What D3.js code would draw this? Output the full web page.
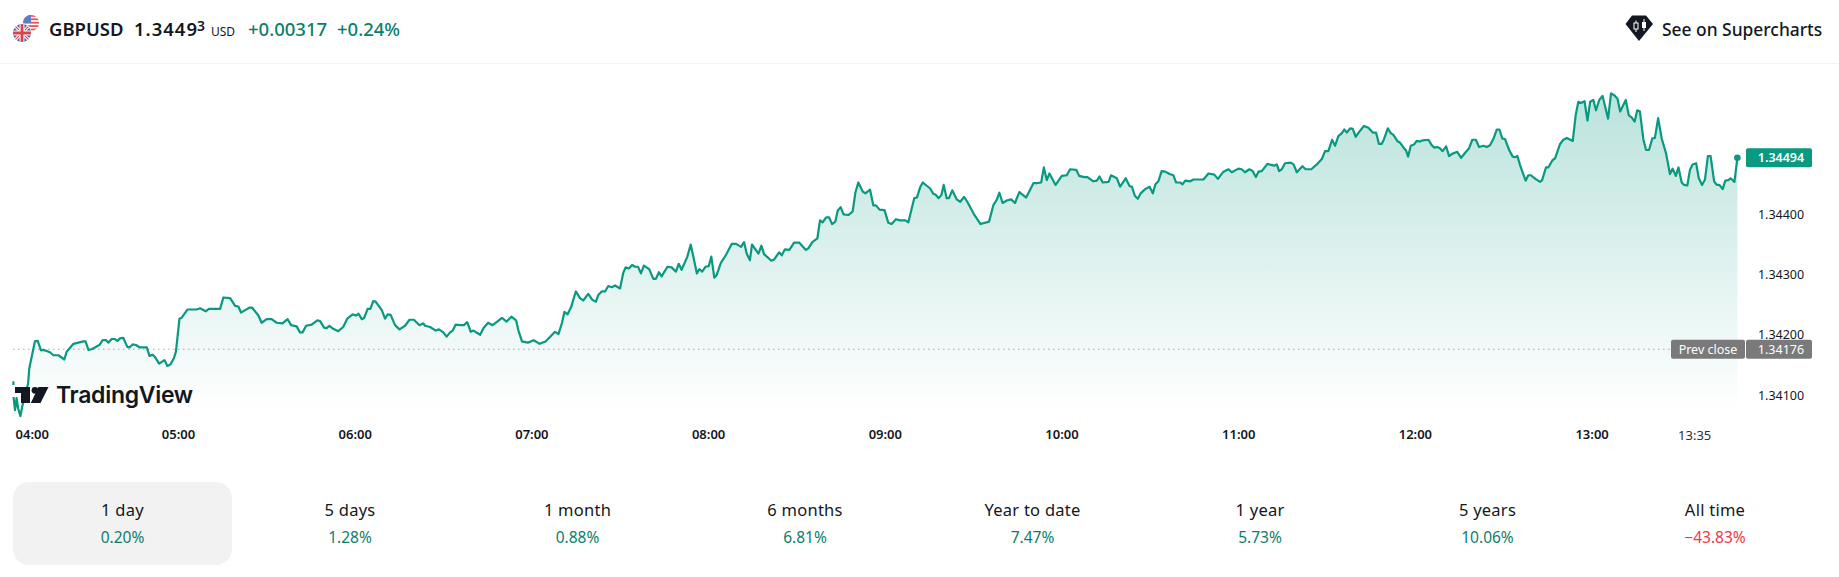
<!DOCTYPE html>
<html>
<head>
<meta charset="utf-8">
<title>GBPUSD</title>
<script src="https://cdn.jsdelivr.net/npm/d3@7"></script>
<style>
  html, body { margin: 0; padding: 0; background: #fff; overflow: hidden; }
  svg { display: block; }
  text { font-family: "Noto Sans", sans-serif; }
</style>
</head>
<body>
<svg id="chart" width="1839" height="577"></svg>
<script>
// [minutes since 04:00, price]
var quotes = [
  [4.1,1.34123],[4.2,1.34095],[4.65,1.34075],[5.2,1.34095],[5.7,1.34078],[6.5,1.34065],[7.2,1.34083],[8,1.34098],
  [9.1,1.34119],[9.5,1.34144],[11.4,1.34189],[12.35,1.3419],[13.5,1.34174],[14.3,1.34175],[15.4,1.34173],[16.5,1.34171],
  [17.7,1.34166],[19.4,1.34166],[21.4,1.34159],[22.2,1.34172],[24.5,1.34185],[26.2,1.34187],[27.9,1.34189],[28.6,1.34189],
  [29.6,1.34175],[30.7,1.34176],[33.3,1.34183],[34.4,1.34191],[35.6,1.34191],[36.3,1.34187],[37.5,1.34193],[38.6,1.34193],
  [39.4,1.3419],[40.3,1.34194],[41.4,1.34195],[42.8,1.3418],[43.5,1.34179],[44.6,1.34184],[45.7,1.34183],[47.1,1.34179],
  [49.4,1.34179],[50.3,1.34165],[51.4,1.34167],[52.2,1.34163],[53.6,1.34152],[55.4,1.34158],[56.4,1.34148],[57.5,1.34151],
  [58.6,1.34161],[59.3,1.34172],[60.5,1.34227],[61.2,1.34228],[63.2,1.34242],[66.3,1.34242],[67.5,1.34244],[69.4,1.34239],
  [70.5,1.34243],[74.3,1.34243],[75.4,1.34262],[77.7,1.34261],[79.4,1.34248],[80.5,1.34247],[81.4,1.34237],[82.8,1.34241],
  [84.2,1.34245],[85.2,1.34245],[87.3,1.34232],[88.4,1.3422],[90.1,1.34226],[91.8,1.34226],[93.5,1.3422],[95.5,1.34219],
  [97.2,1.34226],[98.4,1.34216],[100.3,1.34214],[101.4,1.34204],[102.3,1.34204],[103.5,1.34215],[105.4,1.34217],[107.3,1.34224],
  [108.2,1.34223],[109.6,1.34212],[110.5,1.34211],[111.4,1.34215],[112.7,1.3421],[114.4,1.34206],[116.1,1.34213],[117.5,1.34227],
  [119.3,1.34234],[120.4,1.34232],[121.3,1.34235],[122.4,1.34226],[123.2,1.34228],[124.4,1.34243],[125.3,1.34243],[126.3,1.34256],
  [127.1,1.34255],[129.2,1.34241],[130.3,1.34227],[131.2,1.34234],[132.2,1.34233],[133.7,1.34216],[135.2,1.34209],[137.1,1.34215],
  [138.6,1.34225],[140.1,1.34225],[142,1.34216],[143.3,1.34219],[143.9,1.34215],[145.6,1.34213],[147.5,1.34207],[148.6,1.34209],
  [150.1,1.34204],[151.2,1.34197],[152.4,1.34204],[153.3,1.34207],[154.3,1.34217],[155.8,1.34216],[157.1,1.34216],[158.2,1.34221],
  [159.4,1.34205],[160.3,1.34207],[162.6,1.342],[163.7,1.34211],[165.3,1.3422],[166.8,1.34216],[168.4,1.34222],[170,1.34228],
  [171.6,1.34222],[173.2,1.3423],[174.8,1.34224],[175.6,1.34207],[176.8,1.34189],[178.8,1.34187],[180.8,1.34191],[182.8,1.34185],
  [184.8,1.34189],[186.8,1.34199],[188,1.34205],[189.2,1.34201],[190.4,1.3422],[191.2,1.34238],[192.3,1.34234],[193.5,1.34246],
  [194.2,1.34258],[195.1,1.34272],[196.5,1.34261],
  [197.6,1.34257],[199.3,1.34268],[200.7,1.34258],[201.9,1.34255],[202.7,1.34266],[203.9,1.34272],[205,1.34272],[206.1,1.34281],
  [207.3,1.34279],[208.4,1.34282],[210.1,1.34277],[211.2,1.34303],[212,1.34312],[213.1,1.3431],[214.2,1.34316],[215.2,1.34313],
  [216.2,1.34313],[217.2,1.34302],[218.2,1.34315],[220,1.34309],[221.4,1.34293],[222.3,1.34293],[223.3,1.34304],[224.2,1.34297],
  [226.2,1.34313],[227.6,1.34312],[229.1,1.34305],[230,1.34318],[231,1.34308],[232.9,1.34329],[234.1,1.3435],[236.2,1.34302],
  [237,1.34309],[238,1.34305],[239.1,1.34313],[240.2,1.34314],[241.1,1.3433],[242.1,1.34295],[242.9,1.34299],[244.3,1.34319],
  [246.1,1.34333],[248,1.34351],[249.5,1.34351],[251.2,1.34346],[252.2,1.34354],[253.1,1.34335],[254.2,1.34324],[254.9,1.3435],
  [257.1,1.34335],[258.1,1.34348],[259,1.34334],[261.5,1.34323],[262.4,1.34325],[264.1,1.34337],[265,1.34332],[266.1,1.34342],
  [267.6,1.34341],[269.2,1.34353],[271,1.34353],[273.2,1.34341],[274.1,1.34344],[275.4,1.34354],[277.1,1.3436],[278,1.3439],
  [278.9,1.34387],[280.1,1.34395],[281.1,1.34395],[282.1,1.34384],[283.2,1.34388],[284,1.34406],[285,1.34412],[286,1.344],
  [287.7,1.34399],[289.1,1.34405],[290,1.34436],[291,1.34453],[292.5,1.34438],[293.4,1.34435],[295,1.34441],[296.1,1.34415],
  [297,1.34415],[298.2,1.34408],[299.9,1.34407],[301.2,1.34386],[302.3,1.34384],[303.8,1.34392],[305.2,1.3439],[307,1.3439],
  [308,1.34387],[310,1.34427],[310.9,1.34428],[312,1.34445],[312.9,1.34453],[315.4,1.34443],[316.5,1.34434],[317.2,1.34433],
  [318.3,1.34427],[319.2,1.34432],[320,1.34449],[321,1.34427],[321.8,1.34427],[322.9,1.3444],[324.4,1.34425],[325.6,1.34421],
  [326.9,1.34429],[328,1.34421],[330.2,1.34401],[332.5,1.34384],[335.4,1.34388],[336.9,1.34416],[338,1.34424],[338.9,1.34436],
  [340,1.34419],[341.4,1.34423],[342.9,1.34425],[344.2,1.34419],[345.7,1.34437],[348,1.34428],[350.5,1.34452],[351.6,1.34452],
  [353.1,1.34453],[354,1.34478],[355,1.34457],[355.9,1.34468],[358,1.34449],[360.1,1.34464],[361.8,1.34465],[362.9,1.34475],
  [365,1.34474],[366,1.34464],[367.7,1.34462],[368.8,1.34462],[370.8,1.34455],[372,1.34456],[372.9,1.34463],[374,1.34453],
  [376,1.34454],[376.8,1.34465],[378.8,1.3446],[379.9,1.34446],[381.8,1.3446],[383.1,1.34447],[383.9,1.34446],[384.9,1.34431],
  [385.9,1.34426],[386.9,1.34435],[388.4,1.34442],[389.9,1.34446],[391,1.34435],[391.9,1.3445],[392.9,1.34455],[394,1.34472],
  [395.2,1.34471],[396.7,1.34467],[398,1.34465],[398.9,1.34453],[400.3,1.34453],[401.1,1.3445],[402,1.34456],[403.7,1.34455],
  [404.8,1.34458],[408.2,1.34458],[409.9,1.34468],[411.9,1.34466],[413.1,1.34459],[415,1.34471],[416.7,1.34475],[417.8,1.3447],
  [420.1,1.34476],[421.2,1.34475],[422.3,1.3447],[423.8,1.34475],[424.9,1.34472],[426,1.34462],[426.9,1.34471],[428,1.34472],
  [429.9,1.34484],[432.2,1.34481],[433.1,1.34483],[433.9,1.34472],[434.8,1.34475],[435.9,1.34485],[437.8,1.34486],[438.8,1.34483],
  [439.9,1.3447],[441.8,1.3448],[442.9,1.34475],[444.8,1.34475],[446.7,1.34483],[448.4,1.34492],[449.5,1.34505],[450.6,1.34505],
  [451.9,1.34524],[452.9,1.34514],[454,1.3453],[455.2,1.34535],[456,1.34541],[456.9,1.34536],[458,1.34543],[458.9,1.34542],
  [459.9,1.34529],[461.4,1.34539],[462.7,1.34547],[464.2,1.34544],[465.7,1.34536],[466.8,1.34536],[467.8,1.34517],[468.7,1.34517],
  [469.5,1.34525],[470.8,1.34543],[471.8,1.34535],[472.7,1.34532],[474,1.34522],[475,1.34519],[476.3,1.3451],[477,1.34506],
  [477.7,1.34496],[478.6,1.34514],[479.7,1.34516],[480.6,1.34522],[481.7,1.34521],[482.7,1.34523],[484.6,1.34524],[485.7,1.34515],
  [486.6,1.34511],[487.6,1.34512],[488.5,1.3451],[489.4,1.34505],[490.6,1.34513],[491.6,1.34497],[492.8,1.34501],[494.4,1.34504],
  [495.7,1.34494],[497,1.34502],[498.4,1.3451],[499.5,1.34524],[500.7,1.34524],[501.8,1.34512],[503.3,1.34514],[504.4,1.34512],
  [505.5,1.34515],[506.7,1.34526],[507.8,1.34541],[508.7,1.34541],[509.7,1.34526],[510.6,1.34525],[512,1.34507],[513.2,1.34496],
  [514,1.34495],[514.8,1.34497],[515.7,1.34482],[517.6,1.34456],[518.5,1.34465],[519.4,1.34465],[520.9,1.34459],[522.5,1.34454],
  [523.2,1.34457],[524.5,1.34478],[525.3,1.34478],[526.7,1.3449],[527.6,1.34493],[529.3,1.34517],[530.4,1.34524],[531.6,1.34527],
  [533.6,1.34522],[534.6,1.34565],[535.5,1.34587],[536.4,1.34585],[537.6,1.34588],[538.6,1.34556],[539.5,1.34587],[540.6,1.3459],
  [541.5,1.34573],[542.6,1.3459],[543.7,1.34597],[545.6,1.34559],[546.6,1.34601],[547.7,1.34598],[548.8,1.34592],[549.7,1.34571],
  [551.6,1.3459],[552.6,1.34565],[553.6,1.34561],[554.6,1.34554],[555.5,1.34573],[556.4,1.34571],[557.6,1.34524],[558.5,1.34507],
  [559.5,1.34507],[560.6,1.34526],[561.5,1.34527],[562.6,1.3456],[563.8,1.34526],[565.3,1.34501],[566.6,1.34467],[567.5,1.34476],
  [568.6,1.34464],[569.5,1.34478],[570.6,1.34453],[571.4,1.34449],[572.5,1.34448],[573.4,1.34474],[574.3,1.34483],[575.5,1.34485],
  [576.4,1.3446],[577.5,1.34449],[578.5,1.34458],[579.5,1.34497],[580.4,1.34497],[581.6,1.34455],[582.5,1.34449],[583.4,1.34449],
  [584.5,1.34442],[585.4,1.34456],[586.4,1.34457],[587.2,1.3446],[588.5,1.34454],[589.5,1.34494]
];

var lastPrice = 1.34494;
var prevClose = 1.34176;
var priceTicks = [1.341, 1.342, 1.343, 1.344];
var timeTicks = [0, 60, 120, 180, 240, 300, 360, 420, 480, 540];
var timeLabels = ['04:00', '05:00', '06:00', '07:00', '08:00', '09:00', '10:00', '11:00', '12:00', '13:00'];
var closeMinute = 575;
var closeLabel = '13:35';

var periods = ['1 day', '5 days', '1 month', '6 months', 'Year to date', '1 year', '5 years', 'All time'];
var periodChanges = ['0.20%', '1.28%', '0.88%', '6.81%', '7.47%', '5.73%', '10.06%', '\u221243.83%'];

var GREEN = '#089981';
var DARK_GREEN = '#0a7f6c';
var INK = '#131722';
var GREY = '#787b86';
var BADGE_GREY = '#7a7a7a';

var svg = d3.select('#chart');

var x = d3.scaleLinear().domain([0, 60]).range([1.3, 178]);
var y = d3.scaleLinear().domain([1.341, 1.344]).range([395, 214.4]);

// area fill, faded down to nothing just under the last tick
var defs = svg.append('defs');
var grad = defs.append('linearGradient')
    .attr('id', 'areaFade')
    .attr('gradientUnits', 'userSpaceOnUse')
    .attr('x1', 0).attr('x2', 0)
    .attr('y1', 90).attr('y2', 410);
grad.append('stop').attr('offset', 0).attr('stop-color', GREEN).attr('stop-opacity', 0.28);
grad.append('stop').attr('offset', 1).attr('stop-color', GREEN).attr('stop-opacity', 0);

svg.append('path')
    .datum(quotes)
    .attr('fill', 'url(#areaFade)')
    .attr('d', d3.area()
        .x(function(d) { return x(d[0]); })
        .y0(410)
        .y1(function(d) { return y(d[1]); }));

svg.append('line')
    .attr('x1', x(quotes[0][0])).attr('x2', 1671)
    .attr('y1', y(prevClose)).attr('y2', y(prevClose))
    .attr('stroke', GREY)
    .attr('stroke-width', 1)
    .attr('stroke-dasharray', '1 4');

svg.append('path')
    .datum(quotes)
    .attr('fill', 'none')
    .attr('stroke', GREEN)
    .attr('stroke-width', 2.2)
    .attr('stroke-linejoin', 'round')
    .attr('d', d3.line()
        .x(function(d) { return x(d[0]); })
        .y(function(d) { return y(d[1]); }));

var lastQuote = quotes[quotes.length - 1];
svg.append('circle')
    .attr('cx', x(lastQuote[0]))
    .attr('cy', y(lastQuote[1]))
    .attr('r', 3.3)
    .attr('fill', GREEN);

// axes
var priceAxis = d3.axisRight(y)
    .tickValues(priceTicks)
    .tickSize(0)
    .tickPadding(0)
    .tickFormat(d3.format('.5f'));
var priceG = svg.append('g')
    .attr('transform', 'translate(1781,0)')
    .call(priceAxis);
priceG.select('.domain').remove();
priceG.selectAll('text')
    .attr('text-anchor', 'middle')
    .style('font-family', '"Noto Sans", sans-serif')
    .style('font-size', '12.5px')
    .attr('fill', INK);

var timeAxis = d3.axisBottom(x)
    .tickValues(timeTicks)
    .tickSize(0)
    .tickPadding(0)
    .tickFormat(function(d, i) { return timeLabels[i]; });
var timeG = svg.append('g')
    .attr('transform', 'translate(0,430)')
    .call(timeAxis);
timeG.select('.domain').remove();
timeG.selectAll('text')
    .style('font-family', '"Noto Sans", sans-serif')
    .style('font-size', '13px')
    .style('font-weight', 600)
    .attr('fill', INK)
    .attr('dx', function(d) { return Math.max(0, 31.7 - x(d)); });

svg.append('text')
    .attr('x', x(closeMinute))
    .attr('y', 439.5)
    .attr('text-anchor', 'middle')
    .style('font-size', '13px')
    .attr('fill', '#2a2e39')
    .text(closeLabel);

// last price and prev close badges
svg.append('rect')
    .attr('x', 1746).attr('y', y(lastPrice) - 9.5)
    .attr('width', 66).attr('height', 19)
    .attr('rx', 2).attr('fill', GREEN);
svg.append('text')
    .attr('x', 1781).attr('y', y(lastPrice) + 4.5)
    .attr('text-anchor', 'middle')
    .attr('fill', '#fff')
    .style('font-size', '12.5px')
    .style('font-weight', 600)
    .text(d3.format('.5f')(lastPrice));

svg.append('rect')
    .attr('x', 1671).attr('y', y(prevClose) - 9.5)
    .attr('width', 74).attr('height', 19)
    .attr('rx', 2).attr('fill', BADGE_GREY);
svg.append('rect')
    .attr('x', 1746).attr('y', y(prevClose) - 9.5)
    .attr('width', 66).attr('height', 19)
    .attr('rx', 2).attr('fill', BADGE_GREY);
svg.append('text')
    .attr('x', 1708).attr('y', y(prevClose) + 4.5)
    .attr('text-anchor', 'middle')
    .attr('fill', '#fff')
    .style('font-size', '12.5px')
    .text('Prev close');
svg.append('text')
    .attr('x', 1781).attr('y', y(prevClose) + 4.5)
    .attr('text-anchor', 'middle')
    .attr('fill', '#fff')
    .style('font-size', '12.5px')
    .text(d3.format('.5f')(prevClose));

// watermark, with the small white patch that hides the line beside it
svg.append('rect')
    .attr('x', 12).attr('y', 385)
    .attr('width', 4).attr('height', 12)
    .attr('fill', '#fff');
var logo = svg.append('g').attr('fill', '#131722');
logo.append('path').attr('d', 'M15,387H30V403H21V393H15Z');
logo.append('circle').attr('cx', 35).attr('cy', 390.3).attr('r', 3.4);
logo.append('path').attr('d', 'M38.5,387H48.5L40.5,403H30.8Z');
logo.append('text')
    .attr('x', 56).attr('y', 402.5)
    .style('font-family', 'Inter, sans-serif')
    .style('font-size', '23px')
    .style('font-weight', 600)
    .style('letter-spacing', '-0.3px')
    .text('TradingView');

// header
svg.append('line')
    .attr('x1', 0).attr('x2', 1839)
    .attr('y1', 63.5).attr('y2', 63.5)
    .attr('stroke', '#f0f3fa');

defs.append('clipPath').attr('id', 'ukClip')
    .append('circle').attr('cx', 22).attr('cy', 33).attr('r', 9);
defs.append('clipPath').attr('id', 'usClip')
    .append('circle').attr('cx', 31).attr('cy', 23).attr('r', 8);

var us = svg.append('g').attr('clip-path', 'url(#usClip)');
us.append('rect').attr('x', 22).attr('y', 14).attr('width', 18).attr('height', 18).attr('fill', '#fff');
d3.range(0, 5).forEach(function(i) {
    us.append('rect')
        .attr('x', 22).attr('y', 15 + i * 3.4)
        .attr('width', 18).attr('height', 1.8)
        .attr('fill', '#e8505b');
});
us.append('rect').attr('x', 22).attr('y', 14).attr('width', 9).attr('height', 9).attr('fill', '#5b7fc7');

svg.append('circle').attr('cx', 22).attr('cy', 33).attr('r', 9.8).attr('fill', '#fff');
var uk = svg.append('g').attr('clip-path', 'url(#ukClip)');
uk.append('rect').attr('x', 13).attr('y', 24).attr('width', 18).attr('height', 18).attr('fill', '#3f5aa8');
uk.append('path').attr('d', 'M13,24L31,42M31,24L13,42').attr('stroke', '#fff').attr('stroke-width', 3.2);
uk.append('path').attr('d', 'M13,24L31,42M31,24L13,42').attr('stroke', '#d9414c').attr('stroke-width', 1.1);
uk.append('path').attr('d', 'M22,24V42M13,33H31').attr('stroke', '#fff').attr('stroke-width', 5);
uk.append('path').attr('d', 'M22,24V42M13,33H31').attr('stroke', '#d9414c').attr('stroke-width', 2.8);

function headerText(str, xpos, size, weight, color, baseline, spacing) {
    return svg.append('text')
        .attr('x', xpos)
        .attr('y', baseline || 36)
        .attr('fill', color)
        .style('font-size', size + 'px')
        .style('font-weight', weight)
        .style('letter-spacing', (spacing || 0) + 'px')
        .text(str);
}

headerText('GBPUSD', 49, 18.5, 600, INK);
headerText('1.3449', 134, 18.5, 600, INK, 36, 1);
headerText('3', 197, 14, 600, INK, 31);
headerText('USD', 211, 12, 400, INK);
headerText('+0.00317', 248, 18.5, 500, DARK_GREEN);
headerText('+0.24%', 337, 18.5, 500, DARK_GREEN);

// supercharts link
svg.append('path')
    .attr('d', 'M1625.5,24L1632,15.5H1646L1653,24L1639,41Z')
    .attr('fill', '#131722');
svg.append('path')
    .attr('d', 'M1636,20.5V32M1644,19V31')
    .attr('stroke', '#fff')
    .attr('stroke-width', 1);
svg.append('rect').attr('x', 1634).attr('y', 23).attr('width', 4).attr('height', 6).attr('fill', '#131722').attr('stroke', '#fff');
svg.append('rect').attr('x', 1642).attr('y', 22).attr('width', 4).attr('height', 6).attr('fill', '#fff');
headerText('See on Supercharts', 1662, 17.4, 500, INK);

// period tabs
var tabScale = d3.scalePoint().domain(periods).range([122.5, 1715]);

svg.append('rect')
    .attr('x', 13).attr('y', 482)
    .attr('width', 219).attr('height', 83)
    .attr('rx', 16)
    .attr('fill', '#f2f2f2');

var tabs = svg.selectAll('.tab')
    .data(periods)
    .enter()
    .append('g')
    .attr('class', 'tab')
    .attr('transform', function(d) { return 'translate(' + tabScale(d) + ',0)'; });
tabs.append('text')
    .attr('y', 516)
    .attr('text-anchor', 'middle')
    .attr('fill', INK)
    .style('font-size', '16.5px')
    .style('letter-spacing', '0.25px')
    .text(function(d) { return d; });
tabs.append('text')
    .attr('y', 543)
    .attr('text-anchor', 'middle')
    .attr('fill', function(d, i) { return periodChanges[i].charAt(0) === '\u2212' ? '#f23645' : DARK_GREEN; })
    .style('font-size', '15.5px')
    .text(function(d, i) { return periodChanges[i]; });
</script>
</body>
</html>
